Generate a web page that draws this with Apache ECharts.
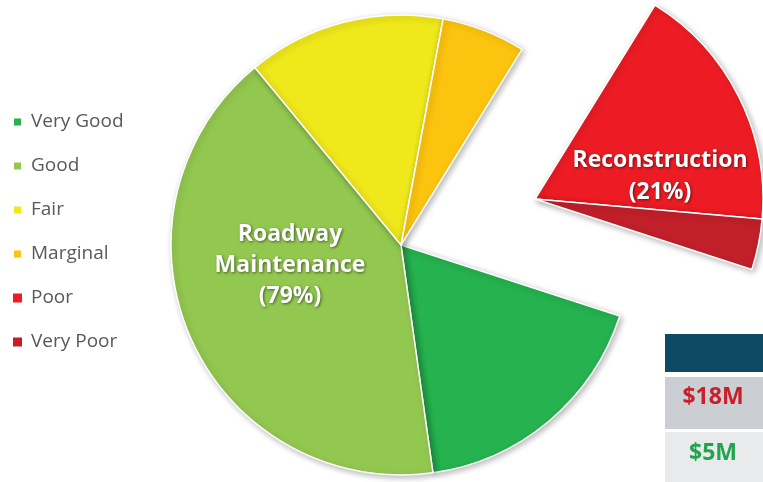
<!DOCTYPE html>
<html>
<head>
<meta charset="utf-8">
<script src="https://cdn.jsdelivr.net/npm/echarts@6/dist/echarts.min.js"></script>
<style>html,body{margin:0;padding:0;background:#fff;}#c{width:763px;height:482px;}</style>
</head>
<body>
<div id="c"></div>
<script>
// Data
var categories = ['Very Good', 'Good', 'Fair', 'Marginal', 'Poor', 'Very Poor'];
var shares = [17.8, 41.3, 13.9, 5.9, 17.6, 3.6];
var colors = ['#25b24f', '#93c850', '#efe81b', '#fcc30f', '#ed1c24', '#c1202a'];
var explodedCats = ['Poor', 'Very Poor'];
var groupLabels = ['Roadway\nMaintenance\n(79%)', 'Reconstruction\n(21%)'];
var costLabels = ['$18M', '$5M'];

function pieData(showExploded) {
  return categories.map(function (c, i) {
    var isExp = explodedCats.indexOf(c) >= 0;
    var visible = showExploded ? isExp : !isExp;
    return {
      name: c,
      value: shares[i],
      itemStyle: visible ? {
        color: colors[i], borderColor: '#ffffff', borderWidth: 1.5,
        shadowBlur: 6, shadowColor: 'rgba(0,0,0,0.28)', shadowOffsetX: 2, shadowOffsetY: 2
      } : { color: 'rgba(0,0,0,0)', borderWidth: 0, shadowBlur: 0 }
    };
  });
}

var chart = echarts.init(document.getElementById('c'), null, { renderer: 'canvas' });
var shadowText = { textShadowColor: 'rgba(0,0,0,0.55)', textShadowBlur: 3, textShadowOffsetX: 1, textShadowOffsetY: 1 };
chart.setOption({
  animation: false,
  legend: {
    orient: 'vertical', left: 7, top: 106,
    icon: 'rect', itemWidth: 9, itemHeight: 9, itemGap: 22,
    data: categories.map(function (c, i) { return { name: c, itemStyle: { color: colors[i] } }; }),
    textStyle: { fontFamily: 'Open Sans', fontSize: 19, color: '#595959', lineHeight: 22, padding: [0, 0, 0, 4] }
  },
  series: [
    {
      type: 'pie', radius: 230, center: [401, 245], startAngle: -18, clockwise: true,
      label: { show: false }, labelLine: { show: false }, silent: true,
      data: pieData(false)
    },
    {
      type: 'pie', radius: 228, center: [535, 199], startAngle: -18, clockwise: true,
      label: { show: false }, labelLine: { show: false }, silent: true,
      data: pieData(true)
    }
  ],
  graphic: [
    { type: 'text', z: 100, x: 290, y: 265, style: Object.assign({ text: groupLabels[0], fill: '#ffffff', font: 'bold 23px "Open Sans"', align: 'center', verticalAlign: 'middle', lineHeight: 31 }, shadowText) },
    { type: 'text', z: 100, x: 660, y: 176, style: Object.assign({ text: groupLabels[1], fill: '#ffffff', font: 'bold 23px "Open Sans"', align: 'center', verticalAlign: 'middle', lineHeight: 32 }, shadowText) },
    { type: 'rect', z: 100, shape: { x: 665, y: 334, width: 98, height: 38 }, style: { fill: '#0e4a63' } },
    { type: 'rect', z: 100, shape: { x: 665, y: 377, width: 98, height: 52 }, style: { fill: '#cbcfd4' } },
    { type: 'rect', z: 100, shape: { x: 665, y: 432, width: 98, height: 50 }, style: { fill: '#e9eaec' } },
    { type: 'text', z: 101, x: 713, y: 397, style: { text: costLabels[0], fill: '#c8202a', font: 'bold 23px "Open Sans"', align: 'center', verticalAlign: 'middle' } },
    { type: 'text', z: 101, x: 713, y: 453, style: { text: costLabels[1], fill: '#1fa54b', font: 'bold 23px "Open Sans"', align: 'center', verticalAlign: 'middle' } }
  ]
});
</script>
</body>
</html>
